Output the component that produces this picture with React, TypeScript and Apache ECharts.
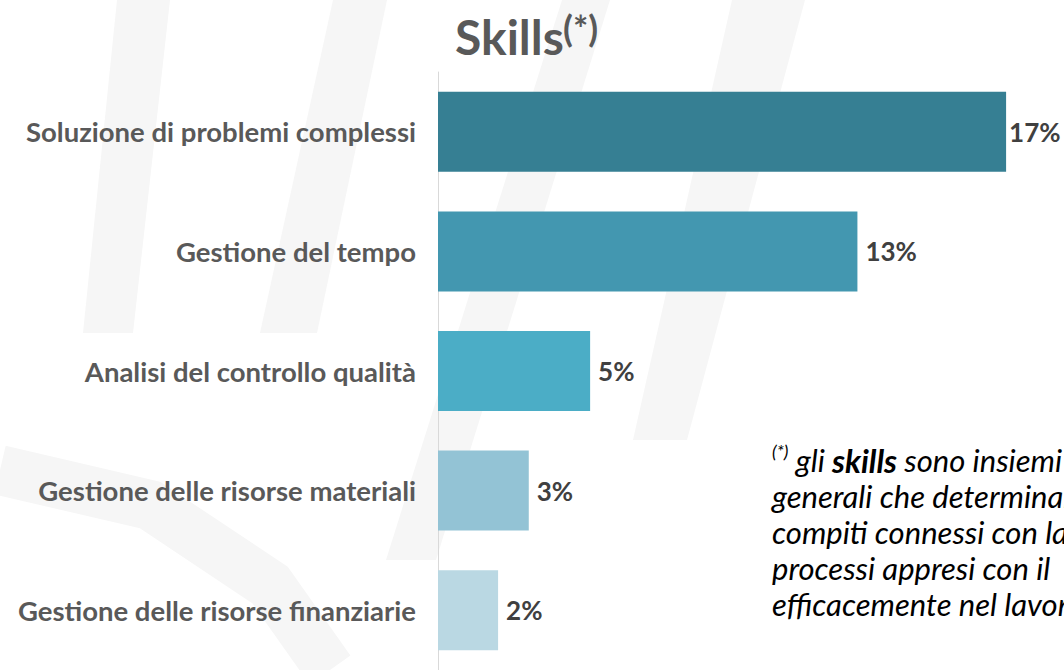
import React, { useEffect, useRef } from "react";
import * as echarts from "echarts";

const categories = [
  "Soluzione di problemi complessi",
  "Gestione del tempo",
  "Analisi del controllo qualità",
  "Gestione delle risorse materiali",
  "Gestione delle risorse finanziarie",
];
const barValues = [18.15, 13.4, 4.86, 2.9, 1.92];
const valueLabels = ["17%", "13%", "5%", "3%", "2%"];
const barColors = ["#367f93", "#4397b0", "#4badc6", "#93c3d5", "#bad8e3"];
const footnoteLines = [
  "{sup|(*)} gli {b|skills} sono insiemi",
  "generali che determinano",
  "compiti connessi con la",
  "processi appresi con il",
  "efficacemente nel lavoro",
];

export default function App() {
  const ref = useRef<HTMLDivElement>(null);
  useEffect(() => {
    const chart = echarts.init(ref.current!, null, { renderer: "svg" });
    const font = "Lato";
    const wm = "#f6f6f6";
    const band = (pts: number[][]) => ({
      type: "polygon",
      z: -10,
      silent: true,
      shape: { points: pts },
      style: { fill: wm },
    });
    chart.setOption({
      animation: false,
      backgroundColor: "#ffffff",
      grid: { left: 438, right: 0, top: 72, bottom: -7, containLabel: false },
      xAxis: {
        type: "value",
        min: 0,
        max: 20,
        show: false,
      },
      yAxis: {
        type: "category",
        data: categories,
        inverse: true,
        axisTick: { show: false },
        axisLine: { show: true, lineStyle: { color: "#d9d9d9", width: 1 } },
        axisLabel: {
          margin: 22,
          color: "#595959",
          fontFamily: font,
          fontWeight: "bold",
          fontSize: 27.5,
        },
      },
      series: [
        {
          type: "bar",
          barWidth: 80,
          data: barValues.map((v, i) => ({
            value: v,
            itemStyle: { color: barColors[i] },
            label: { formatter: valueLabels[i], distance: i === 0 ? 3 : 8 },
          })),
          label: {
            show: true,
            position: "right",
            color: "#404040",
            fontFamily: font,
            fontWeight: "bold",
            fontSize: 26,
          },
          z: 3,
        },
      ],
      graphic: [
        band([[562, 0], [610, 0], [436, 560], [386, 560]]),
        band([[732, 0], [805, 0], [687, 440], [633, 440]]),
        band([[117, 0], [170, 0], [133, 333], [83, 333]]),
        band([[333, 0], [387, 0], [317, 333], [260, 333]]),
        {
          type: "polyline",
          z: -10,
          silent: true,
          shape: { points: [[0, 470], [150, 505], [270, 585], [330, 670]] },
          style: { stroke: wm, lineWidth: 50, fill: null },
        },
        {
          type: "text",
          left: 455,
          top: 12,
          style: { text: "Skills", font: `bold 48px ${font}`, fill: "#595959" },
        },
        {
          type: "text",
          left: 563,
          top: 10,
          style: { text: "(*)", font: `bold 36px ${font}`, fill: "#595959" },
        },
        {
          type: "text",
          left: 772,
          top: 442,
          style: {
            text: footnoteLines.join("\n"),
            font: `italic 31px ${font}`,
            fill: "#000000",
            lineHeight: 36,
            rich: {
              sup: { fontSize: 18, fontStyle: "italic", fontFamily: font, verticalAlign: "top", lineHeight: 36, fill: "#000" },
              b: { fontSize: 32, fontStyle: "italic", fontWeight: "bold", fontFamily: font, lineHeight: 36, fill: "#000" },
            },
          },
        },
      ],
    });
    return () => chart.dispose();
  }, []);
  return (
    <div
      ref={ref}
      style={{ position: "fixed", left: 0, top: 0, width: 1064, height: 670 }}
    />
  );
}
